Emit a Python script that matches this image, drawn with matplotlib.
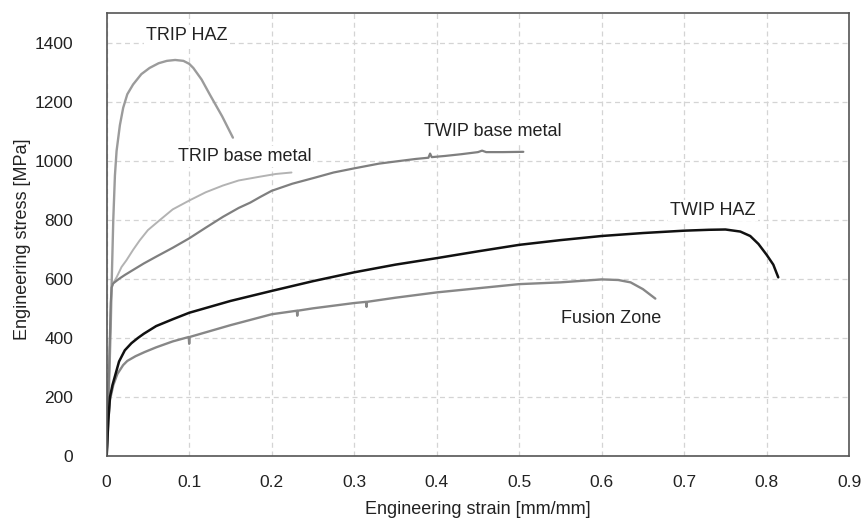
import matplotlib
matplotlib.use("Agg")
import matplotlib.pyplot as plt
from matplotlib.ticker import FuncFormatter

plt.rcParams['font.family'] = ['Liberation Sans', 'DejaVu Sans']

# ---- data (engineering strain [mm/mm], engineering stress [MPa]) ----
trip_haz_x = [0, 0.003, 0.005, 0.006, 0.008, 0.010, 0.012, 0.016, 0.020, 0.025, 0.032, 0.042,
              0.052, 0.063, 0.073, 0.083, 0.093, 0.100, 0.105, 0.115, 0.125, 0.140, 0.153]
trip_haz_y = [0, 250, 450, 580, 800, 950, 1033, 1120, 1179, 1225, 1258, 1293,
              1314, 1330, 1338, 1341, 1338, 1328, 1314, 1275, 1224, 1150, 1078]

trip_base_x = [0, 0.003, 0.005, 0.006, 0.0077, 0.012, 0.018, 0.024, 0.032, 0.040, 0.050, 0.064,
               0.080, 0.100, 0.120, 0.141, 0.160, 0.186, 0.205, 0.224]
trip_base_y = [0, 300, 520, 570, 584, 605, 640, 663, 698, 730, 765, 798,
               835, 865, 893, 916, 933, 946, 955, 960]

twip_base_x = [0, 0.003, 0.005, 0.006, 0.0077, 0.015, 0.022, 0.032, 0.045, 0.060, 0.080, 0.100,
               0.120, 0.141, 0.160, 0.174, 0.186, 0.200, 0.225, 0.253, 0.275, 0.300, 0.330,
               0.355, 0.375, 0.390, 0.392, 0.394, 0.410, 0.430, 0.450, 0.455, 0.460, 0.480, 0.505]
twip_base_y = [0, 300, 520, 570, 584, 600, 613, 630, 652, 675, 705, 737,
               773, 810, 840, 858, 877, 898, 922, 943, 960, 974, 990,
               999, 1006, 1010, 1024, 1012, 1016, 1022, 1029, 1034, 1029, 1029, 1030]

twip_haz_x = [0, 0.002, 0.004, 0.007, 0.010, 0.015, 0.022, 0.030, 0.038, 0.045, 0.060, 0.080,
              0.100, 0.150, 0.200, 0.250, 0.300, 0.350, 0.400, 0.450, 0.500, 0.550, 0.600,
              0.650, 0.700, 0.730, 0.750, 0.768, 0.780, 0.790, 0.800, 0.808, 0.814]
twip_haz_y = [0, 120, 200, 240, 270, 320, 358, 382, 400, 414, 440, 463,
              485, 525, 559, 592, 622, 648, 670, 693, 715, 731, 745,
              755, 763, 766, 767, 760, 745, 718, 681, 648, 605]

fusion_x = [0, 0.002, 0.004, 0.008, 0.013, 0.020, 0.025, 0.035, 0.046, 0.060, 0.080, 0.0995,
            0.100, 0.1005, 0.150, 0.200, 0.2305, 0.231, 0.2315, 0.250, 0.300, 0.3145, 0.315,
            0.3155, 0.350, 0.400, 0.450, 0.500, 0.550, 0.600, 0.620, 0.635, 0.650, 0.665]
fusion_y = [0, 120, 190, 240, 278, 308, 322, 338, 352, 368, 388, 403,
            380, 403, 443, 480, 492, 475, 492, 500, 518, 522, 505,
            522, 536, 554, 568, 582, 588, 598, 596, 588, 565, 533]

labels = ["TRIP HAZ", "TRIP base metal", "TWIP base metal", "TWIP HAZ", "Fusion Zone"]
label_x = [0.097, 0.167, 0.468, 0.735, 0.611]
label_y = [1425, 1015, 1100, 831, 465]

x_ticks = [0, 0.1, 0.2, 0.3, 0.4, 0.5, 0.6, 0.7, 0.8, 0.9]
y_ticks = [0, 200, 400, 600, 800, 1000, 1200, 1400]

# ---- figure ----
fig = plt.figure(figsize=(8.61, 5.27), dpi=100)
ax = fig.add_axes([0.1239, 0.1347, 0.8624, 0.8406])

ax.plot(trip_haz_x, trip_haz_y, color='#9b9b9b', lw=1.7, solid_capstyle='round', solid_joinstyle='round')
ax.plot(trip_base_x, trip_base_y, color='#b3b3b3', lw=1.4, solid_capstyle='round', solid_joinstyle='round')
ax.plot(twip_base_x, twip_base_y, color='#7f7f7f', lw=1.6, solid_capstyle='round', solid_joinstyle='round')
ax.plot(fusion_x, fusion_y, color='#878787', lw=1.7, solid_capstyle='round', solid_joinstyle='round')
ax.plot(twip_haz_x, twip_haz_y, color='#111111', lw=1.8, solid_capstyle='round', solid_joinstyle='round')

for t, x, y in zip(labels, label_x, label_y):
    ax.text(x, y, t, ha='center', va='center', fontsize=13, color='#222222',
            bbox=dict(facecolor='white', edgecolor='none', pad=1.5))

ax.set_xlim(0, 0.9)
ax.set_ylim(0, 1500)
ax.set_xticks(x_ticks)
ax.set_yticks(y_ticks)
ax.xaxis.set_major_formatter(FuncFormatter(lambda v, p: '0' if abs(v) < 1e-9 else f'{v:.1f}'))
ax.tick_params(axis='both', length=0, labelsize=12.5, labelcolor='#222222')
ax.tick_params(axis='x', pad=14)
ax.tick_params(axis='y', pad=24)

ax.grid(True, color='#d4d4d4', linestyle=(0, (4, 3)), linewidth=0.9)
ax.set_axisbelow(True)
for s in ax.spines.values():
    s.set_color('#555555')
    s.set_linewidth(1.2)

ax.set_xlabel('Engineering strain [mm/mm]', fontsize=13, color='#222222')
ax.set_ylabel('Engineering stress [MPa]', fontsize=13, color='#222222')
ax.xaxis.set_label_coords(0.5, -0.12)
ax.xaxis.label.set_va('center')
ax.yaxis.set_label_coords(-0.114, 0.49)
ax.yaxis.label.set_va('center')

fig.savefig('out.png', dpi=100)
